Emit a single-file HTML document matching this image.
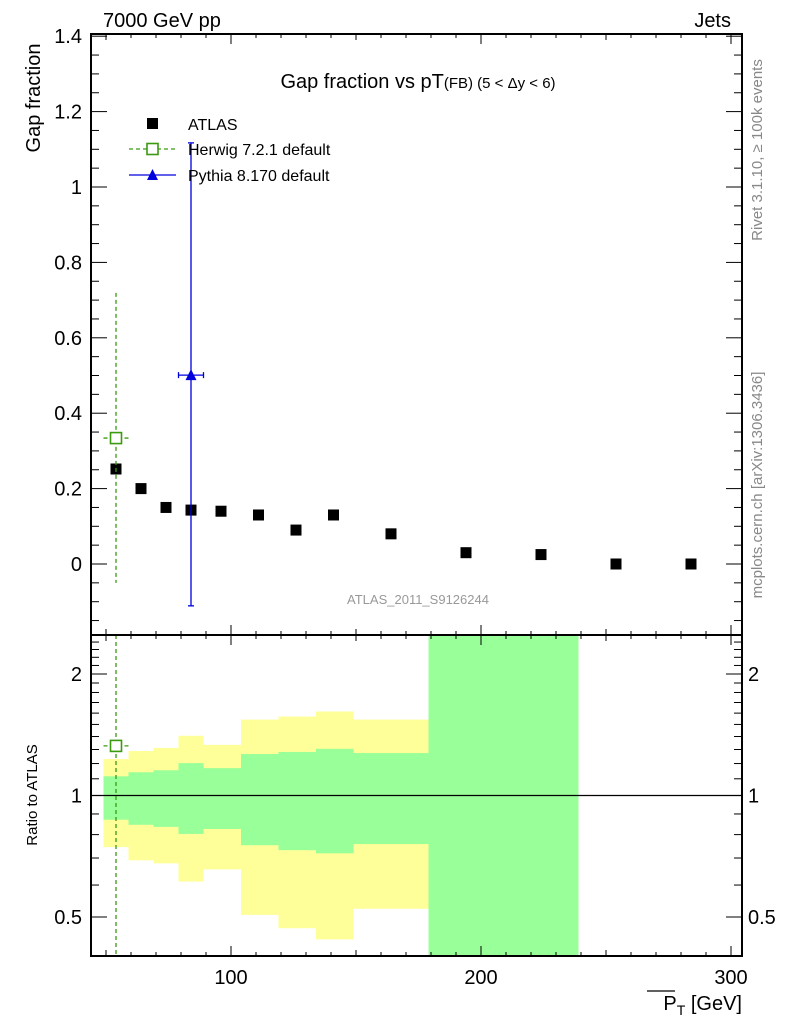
<!DOCTYPE html>
<html><head><meta charset="utf-8"><style>
html,body{margin:0;padding:0;background:#fff;}
svg{display:block;font-family:"Liberation Sans",sans-serif;}
</style></head><body>
<svg id="chart" width="786" height="1024" viewBox="0 0 786 1024" xmlns="http://www.w3.org/2000/svg">
<g id="gBands"></g>
<g id="gMarks"></g>
<g id="gAxes"></g>
<text x="103" y="27" font-size="20">7000 GeV pp</text>
<text x="731" y="27" font-size="20" text-anchor="end">Jets</text>
<text x="418" y="88" font-size="20" text-anchor="middle">Gap fraction vs pT<tspan font-size="15">(FB) (5 &lt; Δy &lt; 6)</tspan></text>
<text transform="translate(40,98) rotate(-90)" font-size="20" text-anchor="middle">Gap fraction</text>
<text transform="translate(37,795) rotate(-90)" font-size="15" text-anchor="middle">Ratio to ATLAS</text>
<text x="742" y="1010" font-size="20" text-anchor="end"><tspan>P</tspan><tspan font-size="14" dy="5">T</tspan><tspan dy="-5"> [GeV]</tspan></text>
<line x1="647" y1="991" x2="675" y2="991" stroke="#000" stroke-width="1.2"/>
<text x="418" y="604" font-size="13" fill="#999" text-anchor="middle">ATLAS_2011_S9126244</text>
<text transform="translate(762,150) rotate(-90)" font-size="15" fill="#888" text-anchor="middle">Rivet 3.1.10, ≥ 100k events</text>
<text transform="translate(762,485) rotate(-90)" font-size="15" fill="#888" text-anchor="middle">mcplots.cern.ch [arXiv:1306.3436]</text>
<g>
<rect x="147" y="118" width="11" height="11" fill="#000"/>
<text x="188" y="130" font-size="16">ATLAS</text>
<line x1="129" y1="149" x2="176" y2="149" stroke="#3a9a10" stroke-dasharray="4,3" stroke-width="1.3"/>
<rect x="147" y="143.5" width="11" height="11" fill="#fff" stroke="#3a9a10" stroke-width="1.6"/>
<text x="188" y="155" font-size="16">Herwig 7.2.1 default</text>
<line x1="129" y1="175" x2="176" y2="175" stroke="#0000dd" stroke-width="1.3"/>
<polygon points="152.5,169 158,180 147,180" fill="#0000dd"/>
<text x="188" y="181" font-size="16">Pythia 8.170 default</text>
</g>
</svg>
<script>
var binEdges=[49,59,69,79,89,104,119,134,149,179];
var yellowHi=[1.231,1.289,1.312,1.406,1.335,1.542,1.569,1.615,1.542];
var greenHi=[1.116,1.142,1.155,1.203,1.169,1.267,1.282,1.305,1.274];
var greenLo=[0.871,0.846,0.836,0.803,0.826,0.753,0.732,0.719,0.758];
var yellowLo=[0.745,0.691,0.679,0.612,0.656,0.506,0.469,0.440,0.524];
var fullBand=[179,239];
var atlasX=[54,64,74,84,96,111,126,141,164,194,224,254,284];
var atlasY=[0.252,0.2,0.15,0.143,0.14,0.13,0.09,0.13,0.08,0.03,0.025,0,0];
var herwigX=[54];
var herwigY=[0.334];
var herwigLo=[-0.05];
var herwigHi=[0.719];
var herwigXLo=[49];
var herwigXHi=[59];
var herwigRatio=[1.327];
var pythiaX=[84];
var pythiaY=[0.501];
var pythiaLo=[-0.111];
var pythiaHi=[1.117];
var pythiaXLo=[79];
var pythiaXHi=[89];
var xTicks=[100,200,300];
var yTicks=[0,0.2,0.4,0.6,0.8,1,1.2,1.4];
var yTickLabels=["0","0.2","0.4","0.6","0.8","1","1.2","1.4"];
var rTicks=[0.5,1,2];
var rTickLabels=["0.5","1","2"];

(function(){
var pL=91,pR=742,pT=34,pMB=635,pRB=956;
function sx(v){return 231+(v-100)*2.5;}
function sy(v){return 564-v*377;}
function sr(v){return 795.5-Math.log10(v)*403.6;}
var SVGNS="http://www.w3.org/2000/svg";
function mk(p,tag,a){var e=document.createElementNS(SVGNS,tag);for(var k in a)e.setAttribute(k,a[k]);p.appendChild(e);return e;}
var gb=document.getElementById('gBands'),gm=document.getElementById('gMarks'),ga=document.getElementById('gAxes');
var i,e,x1,x2,cx,cy,ry;
for(i=0;i<yellowHi.length;i++){
  x1=sx(binEdges[i]);x2=sx(binEdges[i+1]);
  e=mk(gb,'rect',{x:x1,y:sr(yellowHi[i]),width:x2-x1,height:sr(yellowLo[i])-sr(yellowHi[i]),fill:'#ffff99'});
  
  
  e=mk(gb,'rect',{x:x1,y:sr(greenHi[i]),width:x2-x1,height:sr(greenLo[i])-sr(greenHi[i]),fill:'#99ff99'});
  
  
}
e=mk(gb,'rect',{x:sx(fullBand[0]),y:pMB,width:sx(fullBand[1])-sx(fullBand[0]),height:pRB-pMB,fill:'#99ff99'});


mk(gb,'line',{x1:pL,x2:pR,y1:sr(1),y2:sr(1),stroke:'#000','stroke-width':1.2});
for(i=0;i<atlasX.length;i++){
  e=mk(gm,'rect',{x:sx(atlasX[i])-5.5,y:sy(atlasY[i])-5.5,width:11,height:11,fill:'#000'});
  
  
}
var G='#3a9a10';
for(i=0;i<herwigX.length;i++){
  cx=sx(herwigX[i]);cy=sy(herwigY[i]);
  mk(gm,'line',{x1:cx,x2:cx,y1:sy(herwigHi[i]),y2:sy(herwigLo[i]),stroke:G,'stroke-dasharray':'4,3','stroke-width':1.3});
  mk(gm,'line',{x1:sx(herwigXLo[i]),x2:sx(herwigXHi[i]),y1:cy,y2:cy,stroke:G,'stroke-dasharray':'4,3','stroke-width':1.3});
  e=mk(gm,'rect',{x:cx-5.5,y:cy-5.5,width:11,height:11,fill:'#fff',stroke:G,'stroke-width':1.6});
  
  
  mk(gm,'line',{x1:cx,x2:cx,y1:pMB,y2:pRB,stroke:G,'stroke-dasharray':'4,3','stroke-width':1.3});
  ry=sr(herwigRatio[i]);
  mk(gm,'line',{x1:sx(herwigXLo[i]),x2:sx(herwigXHi[i]),y1:ry,y2:ry,stroke:G,'stroke-dasharray':'4,3','stroke-width':1.3});
  e=mk(gm,'rect',{x:cx-5.5,y:ry-5.5,width:11,height:11,fill:'#fff',stroke:G,'stroke-width':1.6});
  
  
}
var B='#0000dd';
for(i=0;i<pythiaX.length;i++){
  cx=sx(pythiaX[i]);cy=sy(pythiaY[i]);
  mk(gm,'line',{x1:cx,x2:cx,y1:sy(pythiaHi[i]),y2:sy(pythiaLo[i]),stroke:B,'stroke-width':1.3});
  mk(gm,'line',{x1:sx(pythiaXLo[i]),x2:sx(pythiaXHi[i]),y1:cy,y2:cy,stroke:B,'stroke-width':1.3});
  mk(gm,'line',{x1:sx(pythiaXLo[i]),x2:sx(pythiaXLo[i]),y1:cy-3,y2:cy+3,stroke:B,'stroke-width':1.3});
  mk(gm,'line',{x1:sx(pythiaXHi[i]),x2:sx(pythiaXHi[i]),y1:cy-3,y2:cy+3,stroke:B,'stroke-width':1.3});
  mk(gm,'line',{x1:cx-3,x2:cx+3,y1:sy(pythiaHi[i]),y2:sy(pythiaHi[i]),stroke:B,'stroke-width':1.3});
  mk(gm,'line',{x1:cx-3,x2:cx+3,y1:sy(pythiaLo[i]),y2:sy(pythiaLo[i]),stroke:B,'stroke-width':1.3});
  e=mk(gm,'polygon',{points:cx+','+(cy-6)+' '+(cx+5.5)+','+(cy+5)+' '+(cx-5.5)+','+(cy+5),fill:B});
  
  
}
mk(ga,'rect',{x:pL,y:pT,width:pR-pL,height:pMB-pT,fill:'none',stroke:'#000','stroke-width':2});
mk(ga,'rect',{x:pL,y:pMB,width:pR-pL,height:pRB-pMB,fill:'none',stroke:'#000','stroke-width':2});
var v,x,y,len,k;
for(v=50;v<=300;v+=10){
  x=sx(v);if(x<pL||x>pR)continue;
  len=(v%50===0)?(v%100===0?10:6):4;
  mk(ga,'line',{x1:x,x2:x,y1:pT,y2:pT+len,stroke:'#000'});
  mk(ga,'line',{x1:x,x2:x,y1:pMB,y2:pMB+len,stroke:'#000'});
  mk(ga,'line',{x1:x,x2:x,y1:pMB,y2:pMB-len,stroke:'#000'});
  mk(ga,'line',{x1:x,x2:x,y1:pRB,y2:pRB-len,stroke:'#000'});
}
for(i=0;i<xTicks.length;i++){
  e=mk(ga,'text',{x:sx(xTicks[i]),y:984,'font-size':20,'text-anchor':'middle'});e.textContent=String(xTicks[i]);
  
  
}
for(k=-3;k<=28;k++){v=k*0.05;y=sy(v);if(y<pT||y>pMB)continue;
  len=(k%4===0)?16:8;
  mk(ga,'line',{x1:pL,x2:pL+len,y1:y,y2:y,stroke:'#000'});mk(ga,'line',{x1:pR,x2:pR-len,y1:y,y2:y,stroke:'#000'});}
for(i=0;i<yTicks.length;i++){
  e=mk(ga,'text',{x:82,y:sy(yTicks[i])+7,'font-size':20,'text-anchor':'end'});e.textContent=yTickLabels[i];
  
  
}
for(k=4;k<=25;k++){v=k/10;y=sr(v);if(y<pMB||y>pRB)continue;
  len=(k===5||k===10||k===20)?16:8;
  mk(ga,'line',{x1:pL,x2:pL+len,y1:y,y2:y,stroke:'#000'});mk(ga,'line',{x1:pR,x2:pR-len,y1:y,y2:y,stroke:'#000'});}
for(i=0;i<rTicks.length;i++){
  e=mk(ga,'text',{x:82,y:sr(rTicks[i])+7,'font-size':20,'text-anchor':'end'});e.textContent=rTickLabels[i];
  
  
  e=mk(ga,'text',{x:748,y:sr(rTicks[i])+7,'font-size':20});e.textContent=rTickLabels[i];
  
  
}
})();
</script>
</body></html>
